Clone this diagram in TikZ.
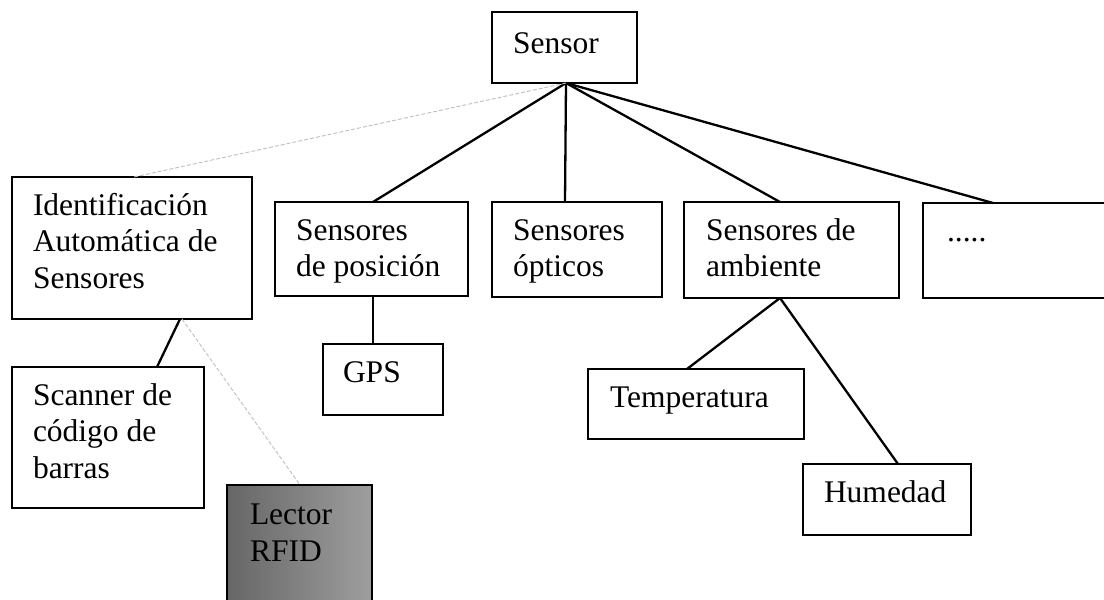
\documentclass[tikz,border=0pt]{standalone}
\usepackage{fontspec}
\setmainfont{Liberation Serif}
\begin{document}
\begin{tikzpicture}[x=1pt,y=-1pt,
  box/.style={draw, line width=2.3pt, rectangle, inner sep=0pt, outer sep=0pt, anchor=north west},
  txt/.style={anchor=north west, inner sep=0pt, outer sep=0pt, align=left,
              font=\fontsize{31.5}{36.5}\selectfont},
  link/.style={line width=2.3pt},
  faint/.style={line width=0.9pt, draw=black!25, dash pattern=on 4pt off 2pt}]
\clip (0,0) rectangle (1104,600);
\fill[white] (0,0) rectangle (1104,600);

% boxes
\node[box, minimum width=145pt, minimum height=71pt]  (sensor) at (492,12)  {};
\node[box, minimum width=240pt, minimum height=142pt] (ident)  at (12,177)  {};
\node[box, minimum width=193pt, minimum height=94pt]  (pos)    at (275,202) {};
\node[box, minimum width=170pt, minimum height=95pt]  (opt)    at (492,202) {};
\node[box, minimum width=215pt, minimum height=96pt]  (amb)    at (684,202) {};
\node[box, minimum width=200pt, minimum height=95pt]  (more)   at (923,203) {};
\node[box, minimum width=120pt, minimum height=71pt]  (gps)    at (323,344) {};
\node[box, minimum width=192pt, minimum height=141pt] (scan)   at (12,367)  {};
\node[box, minimum width=216pt, minimum height=70pt]  (temp)   at (588,369) {};
\node[box, minimum width=168pt, minimum height=71pt]  (hum)    at (803,464) {};
\node[box, minimum width=145pt, minimum height=130pt,
      left color=black!60, right color=black!38]      (rfid)   at (227,485) {};

% labels
\node[txt] (sensorT) at ([shift={(21pt,-15.5pt)}]sensor.north west) {\strut Sensor};
\node[txt] (identT)  at ([shift={(21pt,-12.5pt)}]ident.north west)
  {\strut Identificación\\\strut Automática de\\\strut Sensores};
\node[txt] (posT)    at ([shift={(21pt,-12.5pt)}]pos.north west)
  {\strut Sensores\\\strut de posición};
\node[txt] (optT)    at ([shift={(21pt,-12.5pt)}]opt.north west)
  {\strut Sensores\\\strut ópticos};
\node[txt] (ambT)    at ([shift={(22pt,-12.5pt)}]amb.north west)
  {\strut Sensores de\\\strut ambiente};
\node[txt] (moreT)   at ([shift={(24pt,-12.5pt)}]more.north west) {\strut .....};
\node[txt] (gpsT)    at ([shift={(20pt,-12.5pt)}]gps.north west) {\strut GPS};
\node[txt] (scanT)   at ([shift={(21pt,-12.5pt)}]scan.north west)
  {\strut Scanner de\\\strut código de\\\strut barras};
\node[txt] (tempT)   at ([shift={(22pt,-13pt)}]temp.north west) {\strut Temperatura};
\node[txt] (humT)    at ([shift={(21pt,-13pt)}]hum.north west) {\strut Humedad};
\node[txt] (rfidT)   at ([shift={(23pt,-14pt)}]rfid.north west)
  {\strut Lector\\\strut RFID};

% connectors
\coordinate (root) at ([xshift=1.5pt]sensor.south);
\draw[link] (root) -- ([xshift=98pt]pos.north west);
\draw[link] (root) -- ([xshift=73pt]opt.north west);
\draw[link] (root) -- ([xshift=96pt]amb.north west);
\draw[link] (root) -- ([xshift=70pt]more.north west);
\draw[faint] (root) -- ([xshift=122pt]ident.north west);

\draw[link] ([xshift=168pt]ident.south west) -- ([xshift=145pt]scan.north west);
\draw[faint] ([xshift=170pt]ident.south west) -- ([xshift=73pt]rfid.north west);

\draw[link] ([xshift=98pt]pos.south west) -- ([xshift=50pt]gps.north west);

\draw[link] ([xshift=96pt]amb.south west) -- ([xshift=99pt]temp.north west);
\draw[link] ([xshift=96pt]amb.south west) -- ([xshift=95pt]hum.north west);
\end{tikzpicture}
\end{document}
